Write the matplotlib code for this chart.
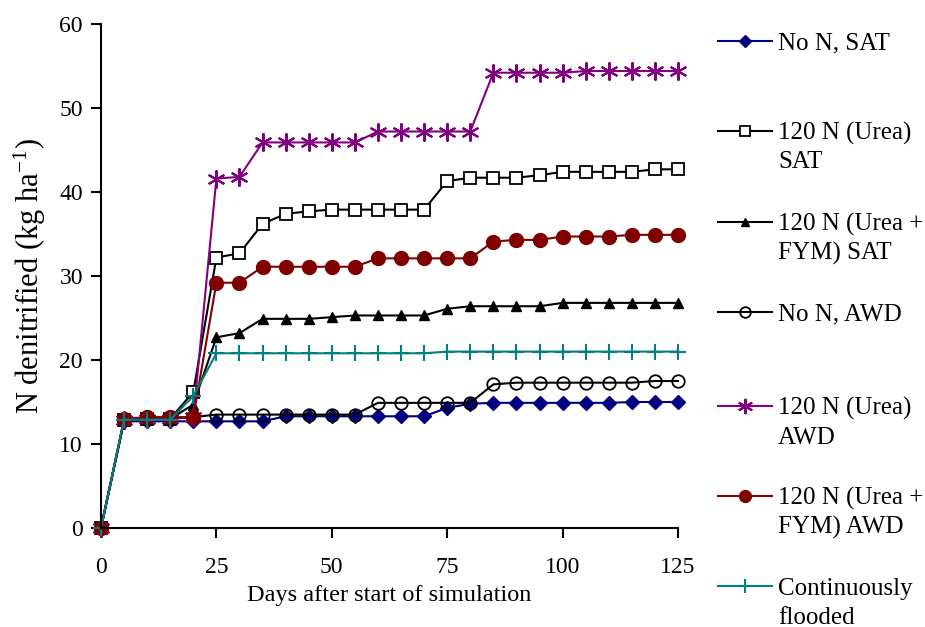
import matplotlib
matplotlib.use("Agg")
import matplotlib.pyplot as plt
from matplotlib.lines import Line2D

plt.rcParams['font.family'] = ['Liberation Serif', 'DejaVu Serif']
plt.rcParams['mathtext.fontset'] = 'custom'
plt.rcParams['mathtext.rm'] = 'Liberation Serif'
plt.rcParams['mathtext.it'] = 'Liberation Serif:italic'

days = list(range(0, 130, 5))

no_n_sat = [0, 12.7, 12.7, 12.7, 12.7, 12.7, 12.7, 12.7, 13.3, 13.3, 13.3, 13.3, 13.3,
            13.3, 13.3, 14.3, 14.8, 14.9, 14.9, 14.9, 14.9, 14.9, 14.9, 15.0, 15.0, 15.0]
urea_sat = [0, 12.8, 13.0, 13.0, 16.2, 32.2, 32.7, 36.2, 37.4, 37.7, 37.9, 37.9, 37.9,
            37.9, 37.9, 41.3, 41.7, 41.7, 41.7, 42.0, 42.4, 42.4, 42.4, 42.4, 42.7, 42.7]
urea_fym_sat = [0, 12.8, 13.0, 13.0, 14.7, 22.7, 23.2, 24.9, 24.9, 24.9, 25.1, 25.3, 25.3,
                25.3, 25.3, 26.1, 26.4, 26.4, 26.4, 26.4, 26.8, 26.8, 26.8, 26.8, 26.8, 26.8]
no_n_awd = [0, 12.8, 13.0, 13.0, 13.2, 13.5, 13.5, 13.5, 13.5, 13.5, 13.5, 13.5, 14.9,
            14.9, 14.9, 14.9, 14.9, 17.1, 17.3, 17.3, 17.3, 17.3, 17.3, 17.3, 17.5, 17.5]
urea_awd = [0, 12.8, 13.0, 13.0, 13.2, 41.6, 41.8, 45.9, 45.9, 45.9, 45.9, 45.9, 47.2,
            47.2, 47.2, 47.2, 47.2, 54.2, 54.2, 54.2, 54.2, 54.4, 54.4, 54.4, 54.4, 54.4]
urea_fym_awd = [0, 13.0, 13.2, 13.2, 13.2, 29.2, 29.2, 31.1, 31.1, 31.1, 31.1, 31.1, 32.1,
                32.1, 32.1, 32.1, 32.1, 34.1, 34.3, 34.3, 34.7, 34.7, 34.7, 34.9, 34.9, 34.9]
flooded = [0, 12.9, 12.9, 12.9, 15.7, 20.8, 20.8, 20.8, 20.8, 20.8, 20.8, 20.8, 20.8,
           20.8, 20.8, 21.0, 21.0, 21.0, 21.0, 21.0, 21.0, 21.0, 21.0, 21.0, 21.0, 21.0]

labels = ["No N, SAT", "120 N (Urea)\nSAT", "120 N (Urea +\nFYM) SAT", "No N, AWD",
          "120 N (Urea)\nAWD", "120 N (Urea +\nFYM) AWD", "Continuously\nflooded"]

styles = [
    dict(color='#000080', marker='D', ms=7, mfc='#000080', mec='#000080'),
    dict(color='black', marker='s', ms=9, mfc='white', mec='black', mew=1.3),
    dict(color='black', marker='^', ms=7, mfc='black', mec='black'),
    dict(color='black', marker='o', ms=9, mfc='none', mec='black', mew=1.3),
    dict(color='#800080', marker=(6, 2, 0), ms=13, mec='#800080', mew=1.5),
    dict(color='#800000', marker='o', ms=10, mfc='#800000', mec='#800000'),
    dict(color='#008080', marker='+', ms=12, mec='#008080', mew=1.5),
]
series = [no_n_sat, urea_sat, urea_fym_sat, no_n_awd, urea_awd, urea_fym_awd, flooded]

fig = plt.figure(figsize=(9.25, 6.27), dpi=100)
ax = fig.add_axes([101 / 925, 1 - 528 / 627, 577 / 925, 504 / 627])

for vals, st in zip(series, styles):
    ax.plot(days, vals, lw=1.5, clip_on=False, **st)

ax.set_xlim(0, 125)
ax.set_ylim(0, 60)
ax.set_xticks(range(0, 126, 25))
ax.set_yticks(range(0, 61, 10))
ax.spines['top'].set_visible(False)
ax.spines['right'].set_visible(False)
for s in ['left', 'bottom']:
    ax.spines[s].set_linewidth(1.5)
ax.tick_params(axis='both', direction='out', length=7, width=1.5, labelsize=17)
ax.tick_params(axis='x', pad=14)
ax.tick_params(axis='y', pad=6)
ax.set_xlabel('Days after start of simulation', fontsize=17.5, labelpad=5)
ax.set_ylabel('N denitrified (kg ha$^{-1}$)', fontsize=22, labelpad=8)

# legend drawn by hand so each marker sits on the first line of its label
leg_y = [41, 131, 222, 312, 406, 496, 586]
line_gap = 29
for lab, st, yp in zip(labels, styles, leg_y):
    yf = 1 - yp / 627
    fig.add_artist(Line2D([718 / 925, 772 / 925], [yf, yf], lw=1.5, color=st['color']))
    mst = {k: v for k, v in st.items() if k not in ('color', 'ms')}
    fig.add_artist(Line2D([745 / 925], [yf], color=st['color'], ms=st['ms'] * 0.85, **mst))
    for i, part in enumerate(lab.split('\n')):
        fig.text(778 / 925, 1 - (yp + i * line_gap) / 627, part, fontsize=18,
                 va='center_baseline', ha='left')

fig.savefig('out.png', dpi=100)
